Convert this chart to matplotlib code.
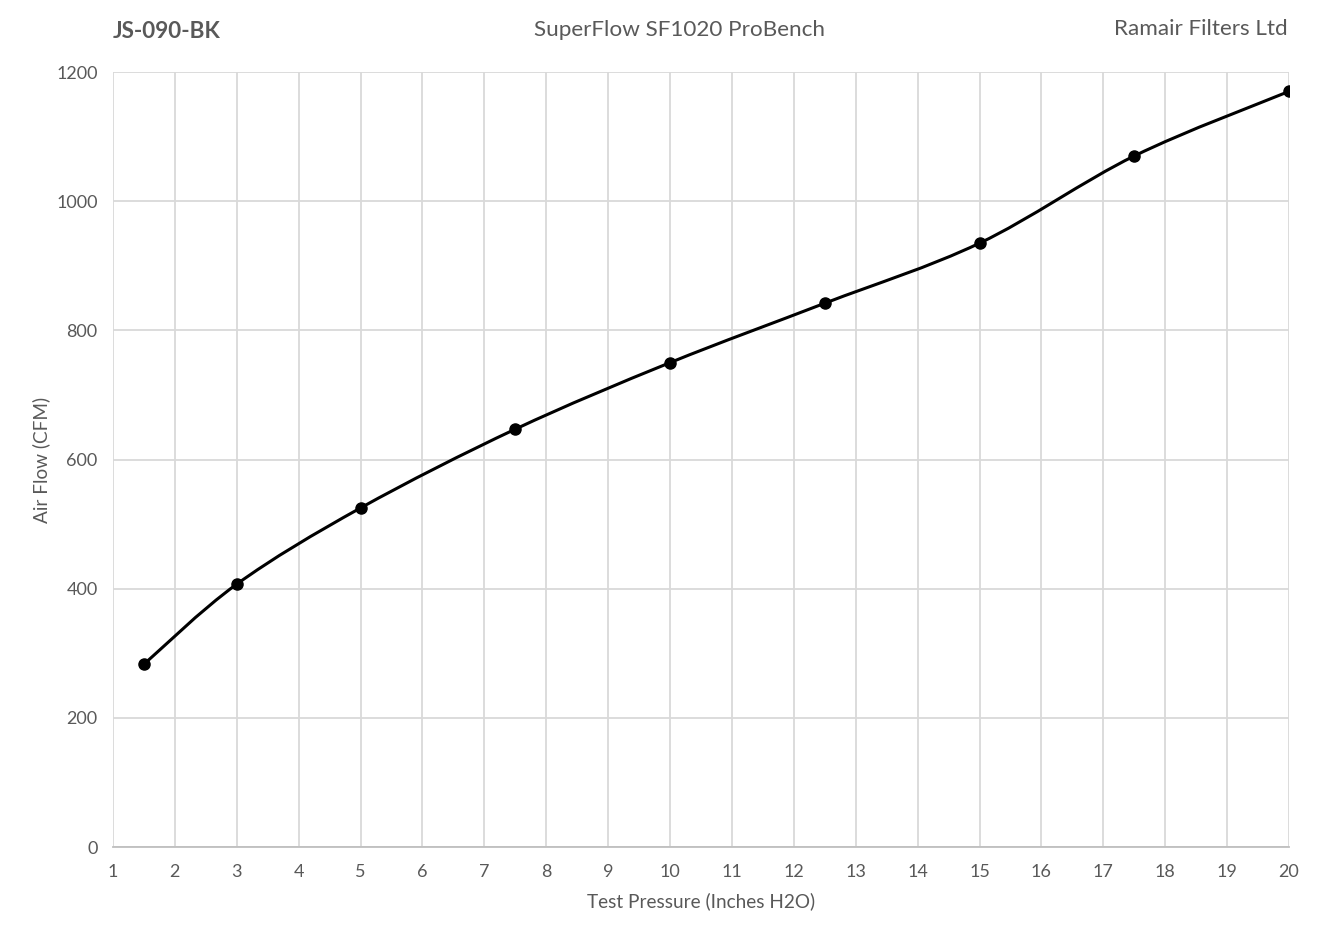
import matplotlib.pyplot as plt
from matplotlib.path import Path
from matplotlib.patches import PathPatch

plt.rcParams['font.family'] = ['Lato', 'DejaVu Sans']

# test points
pressure = [1.5, 3, 5, 7.5, 10, 12.5, 15, 17.5, 20]
airflow = [283, 407, 525, 647, 750, 842, 935, 1070, 1170]
x_ticks = list(range(1, 21))
y_ticks = [0, 200, 400, 600, 800, 1000, 1200]

grey = '#595959'

fig = plt.figure(figsize=(13.21, 9.40), dpi=100)
ax = fig.add_axes([0.0855, 0.0989, 0.8903, 0.8245])

# Excel style smoothed line: bezier segments through the points
verts = [(pressure[0], airflow[0])]
codes = [Path.MOVETO]
n = len(pressure)
for i in range(n - 1):
    p0 = (pressure[max(i - 1, 0)], airflow[max(i - 1, 0)])
    p1 = (pressure[i], airflow[i])
    p2 = (pressure[i + 1], airflow[i + 1])
    p3 = (pressure[min(i + 2, n - 1)], airflow[min(i + 2, n - 1)])
    c1 = (p1[0] + (p2[0] - p0[0]) / 6, p1[1] + (p2[1] - p0[1]) / 6)
    c2 = (p2[0] - (p3[0] - p1[0]) / 6, p2[1] - (p3[1] - p1[1]) / 6)
    verts += [c1, c2, p2]
    codes += [Path.CURVE4] * 3
ax.add_patch(PathPatch(Path(verts, codes), facecolor='none', edgecolor='black', lw=2.2, zorder=3))
ax.plot(pressure, airflow, 'o', color='black', ms=8, zorder=4)

ax.set_xlim(1, 20)
ax.set_ylim(0, 1200)
ax.set_xticks(x_ticks)
ax.set_yticks(y_ticks)
ax.grid(True, color='#d9d9d9', lw=1.3)
ax.set_axisbelow(True)
for s in ['top', 'right', 'left']:
    ax.spines[s].set_visible(False)
ax.spines['bottom'].set_color('#bfbfbf')
ax.spines['bottom'].set_linewidth(1.3)
ax.tick_params(length=0, labelsize=13, labelcolor=grey)
ax.tick_params(axis='x', pad=12)
ax.tick_params(axis='y', pad=11)

ax.set_xlabel('Test Pressure (Inches H2O)', fontsize=13.7, color=grey, labelpad=9)
ax.set_ylabel('Air Flow (CFM)', fontsize=13.7, color=grey, labelpad=4)

fig.text(0.0855, 0.966, 'JS-090-BK', fontsize=16.2, fontweight='bold', color=grey, va='center', ha='left')
fig.text(0.5145, 0.968, 'SuperFlow SF1020 ProBench', fontsize=16.2, color=grey, va='center', ha='center')
fig.text(0.9745, 0.969, 'Ramair Filters Ltd', fontsize=16.2, color=grey, va='center', ha='right')

fig.savefig('out.png', dpi=100)
